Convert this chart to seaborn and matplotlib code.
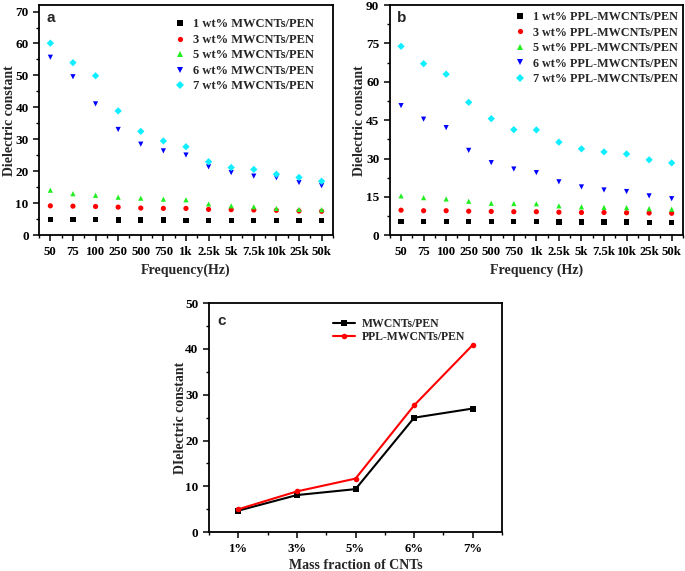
import numpy as np
import pandas as pd
import matplotlib
matplotlib.use("Agg")
import matplotlib.pyplot as plt
from matplotlib.ticker import AutoMinorLocator, MultipleLocator
import seaborn as sns

sns.set_theme(style="white")
plt.rcParams["font.family"] = ["Liberation Serif", "DejaVu Serif"]
plt.rcParams["font.weight"] = "bold"

# ── Data ───────────────────────────────────────────────────────────────────────
freqs = ["50", "75", "100", "250", "500", "750", "1k", "2.5k", "5k", "7.5k", "10k", "25k", "50k"]

a_labels = ["1 wt% MWCNTs/PEN", "3 wt% MWCNTs/PEN", "5 wt% MWCNTs/PEN",
            "6 wt% MWCNTs/PEN", "7 wt% MWCNTs/PEN"]
a_1 = [4.9, 4.9, 4.9, 4.8, 4.8, 4.8, 4.7, 4.7, 4.7, 4.7, 4.6, 4.6, 4.6]
a_3 = [9.2, 9.1, 9.0, 8.8, 8.5, 8.4, 8.4, 8.1, 8.0, 7.9, 7.8, 7.6, 7.5]
a_5 = [14.1, 13.0, 12.5, 11.9, 11.6, 11.3, 11.1, 9.8, 9.2, 8.9, 8.4, 8.1, 8.0]
a_6 = [55.7, 49.6, 41.1, 33.1, 28.5, 26.4, 25.1, 21.4, 19.6, 18.5, 18.0, 16.5, 15.5]
a_7 = [60.1, 54.0, 49.9, 38.9, 32.5, 29.5, 27.7, 23.0, 21.2, 20.6, 19.1, 18.1, 16.9]

b_labels = ["1 wt% PPL-MWCNTs/PEN", "3 wt% PPL-MWCNTs/PEN", "5 wt% PPL-MWCNTs/PEN",
            "6 wt% PPL-MWCNTs/PEN", "7 wt% PPL-MWCNTs/PEN"]
b_1 = [5.4, 5.4, 5.4, 5.3, 5.3, 5.3, 5.3, 5.2, 5.2, 5.2, 5.2, 5.1, 5.1]
b_3 = [9.8, 9.6, 9.6, 9.4, 9.3, 9.2, 9.2, 9.0, 8.9, 8.9, 8.8, 8.7, 8.6]
b_5 = [15.4, 14.7, 14.2, 13.3, 12.5, 12.4, 12.3, 11.5, 11.1, 10.9, 10.8, 10.4, 10.2]
b_6 = [50.7, 45.4, 42.1, 33.2, 28.4, 25.9, 24.5, 20.9, 18.9, 17.7, 17.1, 15.4, 14.3]
b_7 = [73.9, 67.1, 63.0, 52.0, 45.6, 41.3, 41.2, 36.4, 33.8, 32.6, 31.8, 29.5, 28.3]

mass = ["1%", "3%", "5%", "6%", "7%"]
c_labels = ["MWCNTs/PEN", "PPL-MWCNTs/PEN"]
c_plain = [4.7, 8.1, 9.4, 25.0, 27.0]
c_ppl = [5.0, 8.9, 11.7, 27.7, 40.9]

colors = ["#000000", "#FF0000", "#22EE22", "#0000FF", "#11EEFF"]
marks = ["s", "o", "^", "v", "D"]


def long_form(labels, series):
    rows = []
    for lab, vals in zip(labels, series):
        for f, v in zip(freqs, vals):
            rows.append({"freq": f, "value": v, "series": lab})
    return pd.DataFrame(rows)


def style_axes(ax):
    for sp in ax.spines.values():
        sp.set_color("black")
        sp.set_linewidth(1.3)
    ax.tick_params(which="major", direction="out", length=4, width=1.1,
                   colors="black", labelsize=9.5, bottom=True, left=True)
    ax.tick_params(axis="x", which="major", labelsize=9.2)
    ax.tick_params(which="minor", direction="out", length=2.5, width=1.0,
                   colors="black", bottom=True, left=True)
    ax.xaxis.set_minor_locator(AutoMinorLocator(2))
    ax.yaxis.set_minor_locator(AutoMinorLocator(2))
    for lab in ax.get_xticklabels() + ax.get_yticklabels():
        lab.set_fontweight("bold")


fig = plt.figure(figsize=(6.85, 5.71), dpi=100)
ax_a = fig.add_axes([0.057, 0.588, 0.429, 0.403])
ax_b = fig.add_axes([0.569, 0.588, 0.428, 0.403])
ax_c = fig.add_axes([0.305, 0.068, 0.428, 0.401])

# ── Panel a ────────────────────────────────────────────────────────────────────
df_a = long_form(a_labels, [a_1, a_3, a_5, a_6, a_7])
sns.scatterplot(data=df_a, x="freq", y="value", hue="series", style="series",
                palette=dict(zip(a_labels, colors)), markers=dict(zip(a_labels, marks)),
                s=14, linewidth=0, ax=ax_a)
ax_a.set_xlim(-0.5, 12.5)
ax_a.set_ylim(0, 72)
ax_a.yaxis.set_major_locator(MultipleLocator(10))
ax_a.set_xlabel("Frequency(Hz)", fontsize=10, fontweight="bold", labelpad=4)
ax_a.set_ylabel("Dielectric constant", fontsize=10, fontweight="bold")
ax_a.yaxis.set_label_coords(-0.078, 0.5)
ax_a.legend(loc="upper left", bbox_to_anchor=(0.458, 0.942), frameon=False,
            handlelength=1.0, handletextpad=0.55, labelspacing=0.28,
            borderpad=0, borderaxespad=0, markerscale=1.0,
            prop={"weight": "bold", "size": 9})
ax_a.text(0.025, 0.975, "a", transform=ax_a.transAxes, ha="left", va="top",
          fontsize=11, fontweight="bold", family="Liberation Sans")
style_axes(ax_a)

# ── Panel b ────────────────────────────────────────────────────────────────────
df_b = long_form(b_labels, [b_1, b_3, b_5, b_6, b_7])
sns.scatterplot(data=df_b, x="freq", y="value", hue="series", style="series",
                palette=dict(zip(b_labels, colors)), markers=dict(zip(b_labels, marks)),
                s=14, linewidth=0, ax=ax_b)
ax_b.set_xlim(-0.5, 12.5)
ax_b.set_ylim(0, 90)
ax_b.yaxis.set_major_locator(MultipleLocator(15))
ax_b.set_xlabel("Frequency (Hz)", fontsize=10, fontweight="bold", labelpad=4)
ax_b.set_ylabel("Dielectric constant", fontsize=10, fontweight="bold")
ax_b.yaxis.set_label_coords(-0.082, 0.5)
ax_b.legend(loc="upper left", bbox_to_anchor=(0.423, 0.974), frameon=False,
            handlelength=1.0, handletextpad=0.58, labelspacing=0.29,
            borderpad=0, borderaxespad=0, markerscale=1.0,
            prop={"weight": "bold", "size": 8.7})
ax_b.text(0.025, 0.975, "b", transform=ax_b.transAxes, ha="left", va="top",
          fontsize=11, fontweight="bold", family="Liberation Sans")
style_axes(ax_b)

# ── Panel c ────────────────────────────────────────────────────────────────────
df_c = pd.DataFrame({
    "mass": mass * 2,
    "value": c_plain + c_ppl,
    "series": [c_labels[0]] * len(mass) + [c_labels[1]] * len(mass),
})
sns.lineplot(data=df_c, x="mass", y="value", hue="series", style="series",
             palette=dict(zip(c_labels, ["#000000", "#FF0000"])),
             markers={c_labels[0]: "s", c_labels[1]: "o"}, dashes=False,
             markersize=4, markeredgewidth=0, linewidth=1.5, sort=False, ax=ax_c)
ax_c.set_xlim(-0.5, 4.5)
ax_c.set_ylim(0, 50)
ax_c.yaxis.set_major_locator(MultipleLocator(10))
ax_c.set_xlabel("Mass fraction of CNTs", fontsize=10, fontweight="bold", labelpad=3)
ax_c.set_ylabel("DIelectric constant", fontsize=10, fontweight="bold")
ax_c.yaxis.set_label_coords(-0.076, 0.5)
ax_c.legend(loc="upper left", bbox_to_anchor=(0.423, 0.936), frameon=False,
            handlelength=1.86, handletextpad=0.6, labelspacing=0.12,
            borderpad=0, borderaxespad=0,
            prop={"weight": "bold", "size": 8.5})
ax_c.text(0.03, 0.955, "c", transform=ax_c.transAxes, ha="left", va="top",
          fontsize=11, fontweight="bold", family="Liberation Sans")
style_axes(ax_c)

fig.savefig("out.png", dpi=100, facecolor="white")
